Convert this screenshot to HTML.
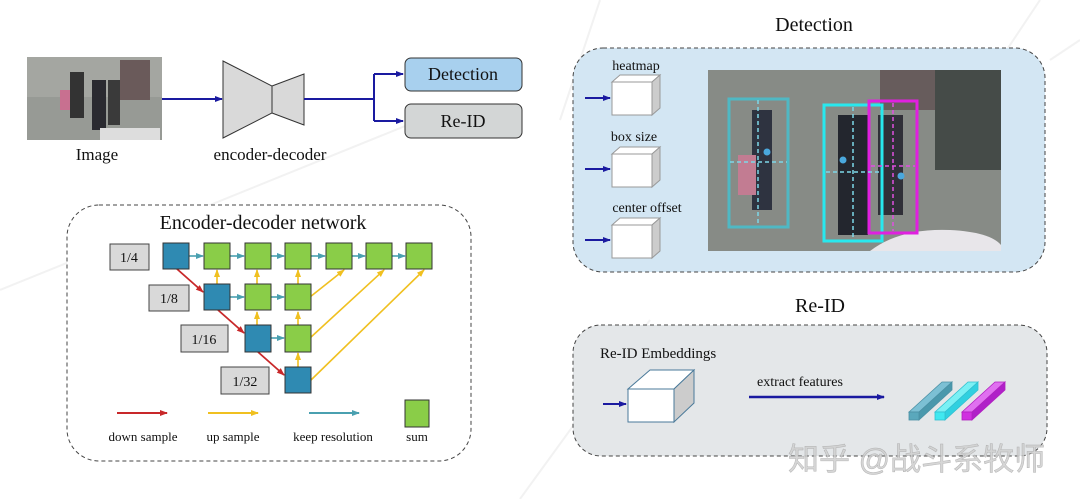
<!DOCTYPE html>
<html><head><meta charset="utf-8"><style>
html,body{margin:0;padding:0;background:#fff;}
svg{display:block;font-family:"Liberation Serif","Noto Serif CJK SC",serif;}
</style></head><body>
<svg width="1080" height="499" viewBox="0 0 1080 499" xmlns="http://www.w3.org/2000/svg">
<defs>
<marker id="ab" markerWidth="8" markerHeight="8" refX="7" refY="4" orient="auto" markerUnits="userSpaceOnUse"><path d="M0,1 L8,4 L0,7Z" fill="#1a1aa0"/></marker>
<marker id="ar" markerWidth="8" markerHeight="8" refX="7" refY="4" orient="auto" markerUnits="userSpaceOnUse"><path d="M0,1 L8,4 L0,7Z" fill="#c8282a"/></marker>
<marker id="ay" markerWidth="8" markerHeight="8" refX="7" refY="4" orient="auto" markerUnits="userSpaceOnUse"><path d="M0,1 L8,4 L0,7Z" fill="#f0c020"/></marker>
<marker id="at" markerWidth="8" markerHeight="8" refX="7" refY="4" orient="auto" markerUnits="userSpaceOnUse"><path d="M0,1 L8,4 L0,7Z" fill="#4aa0b0"/></marker>
</defs>
<g stroke="#f2f2f2" stroke-width="2" fill="none">
<path d="M0,290 L420,120"/><path d="M600,0 L560,120"/><path d="M1040,0 L1000,60"/><path d="M650,320 L520,499"/><path d="M1080,40 L1050,60"/>
</g>
<!-- top left -->
<rect x="27" y="57" width="135" height="83" fill="#979a95"/>
<rect x="27" y="57" width="135" height="40" fill="#a4a6a1"/>
<rect x="70" y="72" width="14" height="46" fill="#333"/><rect x="92" y="80" width="14" height="50" fill="#2a2a30"/><rect x="108" y="80" width="12" height="45" fill="#3a3a3a"/><rect x="60" y="90" width="10" height="20" fill="#c87090"/><rect x="120" y="60" width="30" height="40" fill="#6a5a5a"/><rect x="100" y="128" width="60" height="12" fill="#ddd"/>
<text x="97" y="160" font-size="17" text-anchor="middle" fill="#111">Image</text>
<line x1="162" y1="99" x2="222" y2="99" stroke="#1a1aa0" stroke-width="2" marker-end="url(#ab)"/>
<polygon points="223,61 272,86 272,113 223,138" fill="#d9d9d9" stroke="#333" stroke-width="1"/>
<polygon points="272,86 304,74 304,125 272,113" fill="#d9d9d9" stroke="#333" stroke-width="1"/>
<text x="270" y="160" font-size="17" text-anchor="middle" fill="#111">encoder-decoder</text>
<path d="M304,99 H374 M374,74 V121" stroke="#1a1aa0" stroke-width="2" fill="none"/>
<line x1="374" y1="74" x2="403" y2="74" stroke="#1a1aa0" stroke-width="2" marker-end="url(#ab)"/>
<line x1="374" y1="121" x2="403" y2="121" stroke="#1a1aa0" stroke-width="2" marker-end="url(#ab)"/>
<rect x="405" y="58" width="117" height="33" rx="6" fill="#a8d0ee" stroke="#333"/>
<text x="463" y="80" font-size="18" text-anchor="middle" fill="#111">Detection</text>
<rect x="405" y="104" width="117" height="34" rx="6" fill="#d3d6d6" stroke="#333"/>
<text x="463" y="127" font-size="18" text-anchor="middle" fill="#111">Re-ID</text>
<!-- encoder-decoder network -->
<rect x="67" y="205" width="404" height="256" rx="32" fill="#fff" stroke="#444" stroke-dasharray="4,3"/>
<text x="263" y="229" font-size="20" text-anchor="middle" fill="#111">Encoder-decoder network</text>
<g stroke="#444" fill="#d9d9d9">
<rect x="110" y="244" width="39" height="26"/><rect x="149" y="285" width="40" height="26"/><rect x="181" y="325" width="47" height="27"/><rect x="221" y="367" width="48" height="27"/>
</g>
<g font-size="14" text-anchor="middle" fill="#111">
<text x="129" y="262">1/4</text><text x="169" y="303">1/8</text><text x="204" y="344">1/16</text><text x="245" y="386">1/32</text>
</g>
<g stroke="#f0c020" stroke-width="1.6" marker-end="url(#ay)">
<line x1="310" y1="297" x2="344" y2="270"/><line x1="310" y1="338" x2="384" y2="270"/><line x1="311" y1="380" x2="424" y2="270"/>
<line x1="217" y1="284" x2="217" y2="270"/><line x1="257" y1="284" x2="257" y2="270"/><line x1="298" y1="284" x2="298" y2="270"/>
<line x1="257" y1="325" x2="257" y2="312"/><line x1="298" y1="325" x2="298" y2="312"/><line x1="298" y1="367" x2="298" y2="353"/>
</g>
<g stroke="#4aa0b0" stroke-width="1.6" marker-end="url(#at)">
<line x1="189" y1="256" x2="203" y2="256"/><line x1="230" y1="256" x2="244" y2="256"/><line x1="271" y1="256" x2="284" y2="256"/><line x1="311" y1="256" x2="325" y2="256"/><line x1="352" y1="256" x2="365" y2="256"/><line x1="392" y1="256" x2="405" y2="256"/>
<line x1="230" y1="297" x2="244" y2="297"/><line x1="271" y1="297" x2="284" y2="297"/><line x1="271" y1="338" x2="284" y2="338"/>
</g>
<g stroke="#c8282a" stroke-width="1.8" marker-end="url(#ar)">
<line x1="177" y1="269" x2="203" y2="292"/><line x1="218" y1="310" x2="244" y2="333"/><line x1="258" y1="352" x2="284" y2="375"/>
</g>
<g stroke="#333" stroke-width="1">
<rect x="163" y="243" width="26" height="26" fill="#2f8ab2"/><rect x="204" y="284" width="26" height="26" fill="#2f8ab2"/><rect x="245" y="325" width="26" height="27" fill="#2f8ab2"/><rect x="285" y="367" width="26" height="26" fill="#2f8ab2"/>
<g fill="#8acd48">
<rect x="204" y="243" width="26" height="26"/><rect x="245" y="243" width="26" height="26"/><rect x="285" y="243" width="26" height="26"/><rect x="326" y="243" width="26" height="26"/><rect x="366" y="243" width="26" height="26"/><rect x="406" y="243" width="26" height="26"/>
<rect x="245" y="284" width="26" height="26"/><rect x="285" y="284" width="26" height="26"/><rect x="285" y="325" width="26" height="27"/>
<rect x="405" y="400" width="24" height="27"/>
</g></g>
<line x1="117" y1="413" x2="167" y2="413" stroke="#c8282a" stroke-width="2" marker-end="url(#ar)"/>
<line x1="208" y1="413" x2="258" y2="413" stroke="#f0c020" stroke-width="2" marker-end="url(#ay)"/>
<line x1="309" y1="413" x2="359" y2="413" stroke="#4aa0b0" stroke-width="2" marker-end="url(#at)"/>
<g font-size="13" text-anchor="middle" fill="#111">
<text x="143" y="441">down sample</text><text x="233" y="441">up sample</text><text x="333" y="441">keep resolution</text><text x="417" y="441">sum</text>
</g>
<!-- Detection -->
<text x="814" y="31" font-size="20" text-anchor="middle" fill="#111">Detection</text>
<rect x="573" y="48" width="472" height="224" rx="30" fill="#d3e6f3" stroke="#444" stroke-dasharray="4,3"/>
<g font-size="14" fill="#111" text-anchor="middle">
<text x="636" y="70">heatmap</text><text x="634" y="141">box size</text><text x="647" y="212">center offset</text>
</g>
<g stroke="#999" stroke-width="1">
<g><polygon points="612,82 620,75 660,75 652,82" fill="#fff"/><polygon points="652,82 660,75 660,108 652,115" fill="#ccc"/><rect x="612" y="82" width="40" height="33" fill="#fff"/></g>
<g><polygon points="612,154 620,147 660,147 652,154" fill="#fff"/><polygon points="652,154 660,147 660,180 652,187" fill="#ccc"/><rect x="612" y="154" width="40" height="33" fill="#fff"/></g>
<g><polygon points="612,225 620,218 660,218 652,225" fill="#fff"/><polygon points="652,225 660,218 660,251 652,258" fill="#ccc"/><rect x="612" y="225" width="40" height="33" fill="#fff"/></g>
</g>
<g stroke="#1a1aa0" stroke-width="2" marker-end="url(#ab)">
<line x1="585" y1="98" x2="610" y2="98"/><line x1="585" y1="169" x2="610" y2="169"/><line x1="585" y1="240" x2="610" y2="240"/>
</g>
<rect x="708" y="70" width="293" height="181" fill="#878b86"/>
<rect x="935" y="70" width="66" height="100" fill="#454b48"/>
<rect x="880" y="70" width="55" height="40" fill="#675c5c"/>
<path d="M870,251 Q900,228 950,230 Q990,232 1001,245 V251Z" fill="#e8e6ea"/>
<rect x="752" y="110" width="20" height="100" fill="#2e3340"/><rect x="738" y="155" width="18" height="40" fill="#c27c92"/>
<rect x="838" y="115" width="30" height="120" fill="#23262e"/><rect x="878" y="115" width="25" height="100" fill="#303038"/>
<g fill="none" stroke-width="3">
<rect x="729" y="99" width="59" height="128" stroke="#4fb8c4"/>
<rect x="824" y="105" width="58" height="136" stroke="#28e8ee"/>
<rect x="869" y="101" width="48" height="132" stroke="#e020e0"/>
</g>
<g stroke-width="1.5" stroke-dasharray="4,3" fill="none">
<path d="M758,100 V226 M730,162 H787" stroke="#7dd8e8"/>
<path d="M853,107 V239 M826,172 H880" stroke="#7dd8e8"/>
<path d="M893,103 V231 M871,166 H915" stroke="#e050e0"/>
</g>
<g fill="#4aa8dd"><circle cx="767" cy="152" r="3.5"/><circle cx="843" cy="160" r="3.5"/><circle cx="901" cy="176" r="3.5"/></g>
<!-- Re-ID -->
<text x="820" y="312" font-size="20" text-anchor="middle" fill="#111">Re-ID</text>
<rect x="573" y="325" width="474" height="131" rx="28" fill="#e4e7e9" stroke="#444" stroke-dasharray="4,3"/>
<text x="600" y="358" font-size="15" fill="#111">Re-ID Embeddings</text>
<g stroke="#4a7a9a" stroke-width="1">
<polygon points="628,389 650,370 694,370 674,389" fill="#fff"/><polygon points="674,389 694,370 694,403 674,422" fill="#ccc"/><rect x="628" y="389" width="46" height="33" fill="#fff"/>
</g>
<line x1="603" y1="404" x2="626" y2="404" stroke="#1a1aa0" stroke-width="2" marker-end="url(#ab)"/>
<text x="757" y="386" font-size="14" fill="#111">extract features</text>
<line x1="749" y1="397" x2="884" y2="397" stroke="#1a1aa0" stroke-width="2.5" marker-end="url(#ab)"/>
<g stroke-width="0.8">
<polygon points="909,412 942,382 952,382 919,412" fill="#7cc0d4" stroke="#4a90a4"/><polygon points="919,412 952,382 952,390 919,420" fill="#4a98ac" stroke="#4a90a4"/><rect x="909" y="412" width="10" height="8" fill="#5aa8bc" stroke="#4a90a4"/>
<polygon points="935,412 968,382 978,382 945,412" fill="#7af0f4" stroke="#30c0d0"/><polygon points="945,412 978,382 978,390 945,420" fill="#30d0e0" stroke="#30c0d0"/><rect x="935" y="412" width="10" height="8" fill="#40e8f0" stroke="#30c0d0"/>
<polygon points="962,412 995,382 1005,382 972,412" fill="#e070f0" stroke="#b020c0"/><polygon points="972,412 1005,382 1005,390 972,420" fill="#b020c8" stroke="#b020c0"/><rect x="962" y="412" width="10" height="8" fill="#d030e0" stroke="#b020c0"/>
</g>
<text x="788" y="470" font-size="31" fill="#d0d0d0" font-family="Liberation Sans,'Noto Sans CJK SC',sans-serif" stroke="#a8a8a8" stroke-width="0.5" opacity="0.85">知乎 @战斗系牧师</text>
</svg>
</body></html>
